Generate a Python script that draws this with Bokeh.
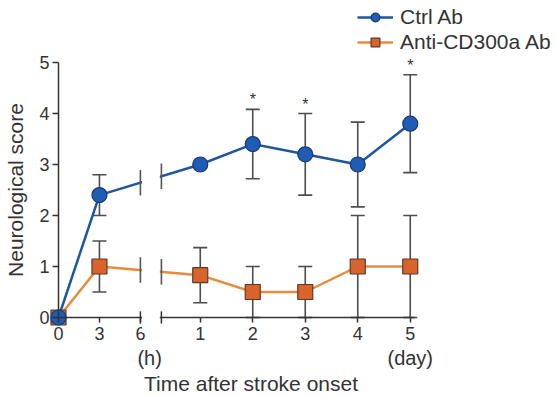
import numpy as np
from bokeh.plotting import figure
from bokeh.models import Range1d, FixedTicker, BoxAnnotation, Legend, LegendItem
from bokeh.core.properties import value
from bokeh.embed import file_html
from bokeh.resources import INLINE

# ---- data ----
hours = [0, 3]
hour_ticks = [0, 3, 6]
days = [1, 2, 3, 4, 5]
ctrl_h = [0.0, 2.4]
ctrl_h_err = [0.0, 0.4]
ctrl_d = [3.0, 3.4, 3.2, 3.0, 3.8]
ctrl_d_err = [0.0, 0.68, 0.8, 0.83, 0.96]
anti_h = [0.0, 1.0]
anti_h_err = [0.0, 0.5]
anti_d = [0.83, 0.5, 0.5, 1.0, 1.0]
anti_d_err = [0.54, 0.5, 0.5, 1.0, 1.0]
sig_days = [2, 3, 5]
y_ticks = [0, 1, 2, 3, 4, 5]

# ---- broken x scale (hours | days) ----
HOUR_SCALE = 0.26
DAY_OFFSET = 1.70
BREAK_L = 6 * HOUR_SCALE
BREAK_R = 1.96
AX_END = 5 + DAY_OFFSET + 0.08


def hx(h):
    return np.asarray(h, float) * HOUR_SCALE


def dx(d):
    return np.asarray(d, float) + DAY_OFFSET


FONT = "Liberation Sans"
TXT = "#333333"
AX = "#333333"
ERR = "#4d4d4d"
BLUE_L, BLUE_F, BLUE_E = "#1e56a0", "#1f5db5", "#1a3a6e"
ORG_L, ORG_F, ORG_E = "#ea8a3c", "#d9632b", "#5a3b2b"

W, H = 556, 396
X0, XS = 58.0, 52.5   # pixel of x=0, pixels per unit
Y0, YS = 317.0, 51.0  # pixel of y=0, pixels per unit

p = figure(width=W, height=H, x_range=Range1d(-X0 / XS, (W - X0) / XS),
           y_range=Range1d((Y0 - H) / YS, Y0 / YS), min_border=0,
           toolbar_location=None, output_backend="svg",
           outline_line_color=None, background_fill_color="white")
p.xgrid.visible = False
p.ygrid.visible = False

# axes
xa = p.xaxis[0]
xa.fixed_location = 0
xa.bounds = (0, AX_END)
xa.ticker = FixedTicker(ticks=list(hx(hour_ticks)) + list(dx(days)))
xa.major_label_text_color = None
xa.major_label_text_font_size = "1px"
xa.minor_tick_line_color = None
xa.major_tick_out = 5
xa.major_tick_in = 0
xa.axis_line_width = 1.5
xa.major_tick_line_width = 1.5
xa.axis_line_color = AX
xa.major_tick_line_color = AX

ya = p.yaxis[0]
ya.fixed_location = 0
ya.bounds = (0, 5)
ya.ticker = FixedTicker(ticks=y_ticks)
ya.minor_tick_line_color = None
ya.major_tick_out = 6
ya.major_tick_in = 0
ya.axis_line_width = 1.5
ya.major_tick_line_width = 1.5
ya.axis_line_color = AX
ya.major_tick_line_color = AX
ya.major_label_text_font = FONT
ya.major_label_text_font_size = "18px"
ya.major_label_text_color = TXT
ya.major_label_standoff = 3
ya.axis_label = "Neurological score"
ya.axis_label_text_font = FONT
ya.axis_label_text_font_size = "21px"
ya.axis_label_text_font_style = "normal"
ya.axis_label_text_color = TXT
ya.axis_label_standoff = 9

# combined series
cx = np.concatenate([hx(hours), dx(days)])
c_y = np.array(ctrl_h + ctrl_d)
c_e = np.array(ctrl_h_err + ctrl_d_err)
a_y = np.array(anti_h + anti_d)
a_e = np.array(anti_h_err + anti_d_err)

# error bars
for y, e in ((c_y, c_e), (a_y, a_e)):
    m = e > 0
    xs = cx[m]
    lo = np.maximum(y[m] - e[m], 0)
    hi = y[m] + e[m]
    p.segment(xs, lo, xs, hi, line_color=ERR, line_width=1.6)
    p.scatter(np.concatenate([xs, xs]), np.concatenate([lo, hi]), marker="dash",
              size=14, line_color=ERR, line_width=1.6)

# lines
lc = p.line(cx, c_y, line_color=BLUE_L, line_width=2.5)
la = p.line(cx, a_y, line_color=ORG_L, line_width=2.5)

# gap for axis break
p.add_layout(BoxAnnotation(left=BREAK_L + 0.03, right=BREAK_R - 0.03, bottom=-0.3, top=5.6,
                           fill_color="white", fill_alpha=1, line_color=None))

# break ticks
bx = [BREAK_L, BREAK_R]
for y in (c_y, a_y):
    yb = np.interp(bx, cx, y)
    p.segment(bx, yb - 0.25, bx, yb + 0.25, line_color="#555555", line_width=1.6, level="overlay")
p.segment(bx, [-0.12, -0.12], bx, [0.12, 0.12], line_color=AX, line_width=1.5, level="overlay")

# markers
ma = p.scatter(cx, a_y, marker="square", size=15, fill_color=ORG_F, line_color=ORG_E, line_width=1.2)
mc = p.scatter(cx, c_y, marker="circle", size=15, fill_color=BLUE_F, line_color=BLUE_E, line_width=1.2)

# significance asterisks
sd = np.array(sig_days)
idx = [days.index(d) for d in sig_days]
sig_top = np.array(ctrl_d)[idx] + np.array(ctrl_d_err)[idx]
p.text(dx(sd), sig_top, text=["*"] * len(sd), text_align="center", text_baseline="bottom",
       y_offset=-1, text_font=value(FONT), text_font_size="16px", text_color=TXT)

# x tick labels
tick_x = np.concatenate([hx(hour_ticks), dx(days)])
tick_lab = [str(h) for h in hour_ticks] + [str(d) for d in days]
p.text(tick_x, np.zeros(len(tick_x)), text=tick_lab, text_align="center", text_baseline="top",
       y_offset=9, text_font=value(FONT), text_font_size="18px", text_color=TXT)
p.text(hx([6]), [0], text=["(h)"], text_align="left", text_baseline="top",
       x_offset=-3, y_offset=29, text_font=value(FONT), text_font_size="20px", text_color=TXT)
p.text(dx([5]), [0], text=["(day)"], text_align="center", text_baseline="top",
       y_offset=29, text_font=value(FONT), text_font_size="20px", text_color=TXT)
p.text([3.667], [0], text=["Time after stroke onset"], text_align="center", text_baseline="top",
       y_offset=54, text_font=value(FONT), text_font_size="21px", text_color=TXT)

# legend
leg = Legend(items=[LegendItem(label="Ctrl Ab", renderers=[lc, mc]),
                    LegendItem(label="Anti-CD300a Ab", renderers=[la, ma])],
             location=(357, H - 9 - 45), glyph_width=36, glyph_height=22, label_height=22,
             label_standoff=7, spacing=1, padding=0, margin=0,
             border_line_color=None, background_fill_alpha=0,
             label_text_font=FONT, label_text_font_size="21px", label_text_color=TXT)
p.add_layout(leg, "center")

open("out.html", "w").write(file_html(p, INLINE))
